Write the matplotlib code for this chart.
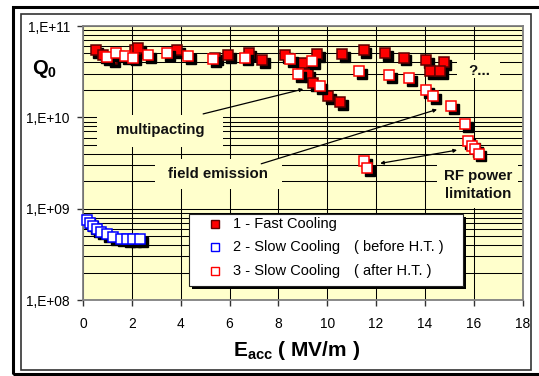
import matplotlib
matplotlib.use("Agg")
import matplotlib.pyplot as plt
import matplotlib.transforms as mtransforms
from matplotlib.patches import Rectangle
from matplotlib.lines import Line2D
from matplotlib.ticker import FixedLocator, FixedFormatter, NullFormatter

plt.rcParams['font.family'] = ['Liberation Sans', 'DejaVu Sans']
plt.rcParams['mathtext.fontset'] = 'custom'
plt.rcParams['mathtext.rm'] = 'Liberation Sans'
plt.rcParams['mathtext.bf'] = 'Liberation Sans:bold'
plt.rcParams['mathtext.it'] = 'Liberation Sans:italic'

# ---- data ----
fast_E = [0.52, 0.83, 1.18, 2.13, 2.27, 3.84, 5.41, 5.95, 6.78, 7.32, 8.28, 8.96, 9.58,
          9.2, 9.44, 10.03, 10.53, 10.62, 11.49, 12.38, 13.13, 14.06, 14.77, 14.22, 14.63]
fast_Q = [5.4e10, 4.8e10, 4.3e10, 5.4e10, 5.7e10, 5.4e10, 4.5e10, 4.8e10, 5.1e10, 4.2e10,
          4.8e10, 3.9e10, 4.9e10, 3.0e10, 2.35e10, 1.7e10, 1.48e10, 4.9e10, 5.4e10, 5.1e10,
          4.5e10, 4.2e10, 4.0e10, 3.2e10, 3.2e10]

before_E = [0.18, 0.29, 0.42, 0.56, 0.72, 0.97, 1.24, 1.54, 1.79, 2.04, 2.34]
before_Q = [7.5e8, 6.9e8, 6.5e8, 6.0e8, 5.6e8, 5.3e8, 4.9e8, 4.7e8, 4.65e8, 4.6e8, 4.6e8]

after_E = [0.97, 1.35, 1.72, 2.06, 2.68, 3.43, 4.32, 5.34, 6.64, 8.48, 8.82, 9.37, 9.69,
           11.32, 12.55, 13.37, 14.06, 14.33, 15.07, 15.66, 15.75, 15.93, 16.07, 16.2,
           11.52, 11.63]
after_Q = [4.6e10, 5.1e10, 4.7e10, 4.5e10, 4.8e10, 5.1e10, 4.7e10, 4.3e10, 4.5e10, 4.3e10,
           3.0e10, 4.1e10, 2.2e10, 3.2e10, 2.9e10, 2.7e10, 2.0e10, 1.7e10, 1.33e10, 8.5e9,
           5.5e9, 4.9e9, 4.5e9, 4.0e9, 3.3e9, 2.8e9]

x_ticks = [0, 2, 4, 6, 8, 10, 12, 14, 16, 18]
y_ticks = [1e8, 1e9, 1e10, 1e11]
y_tick_labels = ['1,E+08', '1,E+09', '1,E+10', '1,E+11']
legend_labels = ['1 - Fast Cooling', '2 - Slow Cooling', '3 - Slow Cooling']
legend_notes = ['', '( before H.T. )', '( after H.T. )']

W, H = 539, 376
fig = plt.figure(figsize=(W / 100, H / 100), dpi=100)
fig.patch.set_facecolor('white')

def fx(px):
    return px / W

def fy(py):
    return 1 - py / H

BG = '#FFFFCC'
ax = fig.add_axes([fx(83), fy(300), fx(522.5) - fx(83), fy(26) - fy(300)])
ax.set_facecolor(BG)
ax.set_yscale('log')
ax.set_xlim(0, 18)
ax.set_ylim(1e8, 1e11)
ax.set_axisbelow(True)

ax.xaxis.set_major_locator(FixedLocator(x_ticks))
ax.yaxis.set_major_locator(FixedLocator(y_ticks))
ax.yaxis.set_major_formatter(FixedFormatter(y_tick_labels))
minor = [m * 10 ** d for d in range(8, 11) for m in range(2, 10)]
ax.yaxis.set_minor_locator(FixedLocator(minor))
ax.yaxis.set_minor_formatter(NullFormatter())
ax.tick_params(axis='y', which='minor', length=0)
ax.tick_params(axis='both', which='major', length=4, width=1, color='#333333',
               labelsize=9.9, direction='out')
ax.tick_params(axis='y', which='major', pad=5.5)
ax.tick_params(axis='x', which='major', pad=8)
ax.grid(True, which='both', axis='y', color='black', linewidth=0.75)
ax.grid(True, which='major', axis='x', color='black', linewidth=0.75)
for s in ax.spines.values():
    s.set_color('#808080')
    s.set_linewidth(1.3)

# ---- annotation boxes (cover grid) ----
def box(x0, y0, x1, y1):
    r = Rectangle((fx(x0), fy(y1)), fx(x1) - fx(x0), fy(y0) - fy(y1),
                  transform=fig.transFigure, facecolor=BG, edgecolor='none', zorder=1)
    ax.add_patch(r)

box(97, 115, 223, 147)
box(155, 159, 282, 189)
box(437, 160, 518, 208)
box(457, 60, 500, 78)

# ---- markers with shadow ----
shadow = mtransforms.offset_copy(ax.transData, fig=fig, x=2.8, y=-2.8, units='dots')
ms = 7.2

def series(E, Q, face, edge, z):
    ax.plot(E, Q, linestyle='none', marker='s', ms=ms, mfc='black', mec='black',
            mew=1.0, transform=shadow, zorder=z, clip_on=False)
    ax.plot(E, Q, linestyle='none', marker='s', ms=ms, mfc=face, mec=edge,
            mew=1.1, zorder=z + 0.1, clip_on=False)

series(fast_E, fast_Q, '#FF0000', '#600000', 3)
series(after_E, after_Q, 'white', '#FF0000', 3.5)
series(before_E, before_Q, 'white', '#0000FF', 3)

# ---- arrows ----
def arrow(x0, y0, x1, y1, style):
    ax.annotate('', xy=(x1, y1), xytext=(x0, y0), xycoords='data', textcoords='data',
                arrowprops=dict(arrowstyle=style, color='black', lw=0.9,
                                shrinkA=0, shrinkB=0, mutation_scale=5), zorder=4)

arrow(4.92, 1.09e10, 9.02, 2.04e10, '-|>')
arrow(7.3, 3.1e9, 14.5, 1.22e10, '-|>')
arrow(12.17, 3.13e9, 15.32, 4.38e9, '<|-|>')

tb = dict(fontsize=10.8, fontweight='bold', color='#111111', ha='center', va='center',
          transform=fig.transFigure, zorder=5)
ax.text(fx(160), fy(130), 'multipacting', **tb)
ax.text(fx(218), fy(174), 'field emission', **tb)
ax.text(fx(478), fy(185), 'RF power\nlimitation', linespacing=1.3, **tb)
ax.text(fx(479), fy(71), '?...', **tb)

# ---- axis labels ----
fig.text(fx(32), fy(69), r'$\mathbf{Q_0}$', fontsize=14.5, ha='left', va='center')
fig.text(fx(297), fy(350), r'$\mathbf{E_{acc}\ (\ MV/m\ )}$', fontsize=15,
         ha='center', va='center')

# ---- legend (drawn manually) ----
lx0, ly0, lx1, ly1 = 189, 214, 463, 286
fig.add_artist(Rectangle((fx(lx0 + 3), fy(ly1 + 3)), fx(lx1) - fx(lx0), fy(ly0) - fy(ly1),
                         transform=fig.transFigure, facecolor='black', edgecolor='none',
                         zorder=10))
fig.add_artist(Rectangle((fx(lx0), fy(ly1)), fx(lx1) - fx(lx0), fy(ly0) - fy(ly1),
                         transform=fig.transFigure, facecolor='white', edgecolor='#222222',
                         linewidth=0.8, zorder=11))
faces = ['#FF0000', 'white', 'white']
edges = ['#600000', '#0000FF', '#FF0000']
rows = [224, 247, 271]
for lab, note, fc, ec, ry in zip(legend_labels, legend_notes, faces, edges, rows):
    fig.add_artist(Line2D([fx(215)], [fy(ry)], transform=fig.transFigure, marker='s',
                          ms=5.8, mfc=fc, mec=ec, mew=1.0, linestyle='none', zorder=12))
    fig.text(fx(233), fy(ry), lab, fontsize=10.5, ha='left', va='center', zorder=12)
    if note:
        fig.text(fx(354), fy(ry), note, fontsize=10.5, ha='left', va='center', zorder=12)

# ---- outer frames ----
fig.add_artist(Rectangle((fx(21), fy(370)), fx(531) - fx(21), fy(14) - fy(370),
                         transform=fig.transFigure, facecolor='none', edgecolor='#333333',
                         linewidth=1.2, zorder=20))
fig.add_artist(Rectangle((fx(13), fy(374)), fx(560) - fx(13), fy(7) - fy(374),
                         transform=fig.transFigure, facecolor='none', edgecolor='black',
                         linewidth=2.2, zorder=20, clip_on=False))

fig.savefig('out.png', dpi=100)
